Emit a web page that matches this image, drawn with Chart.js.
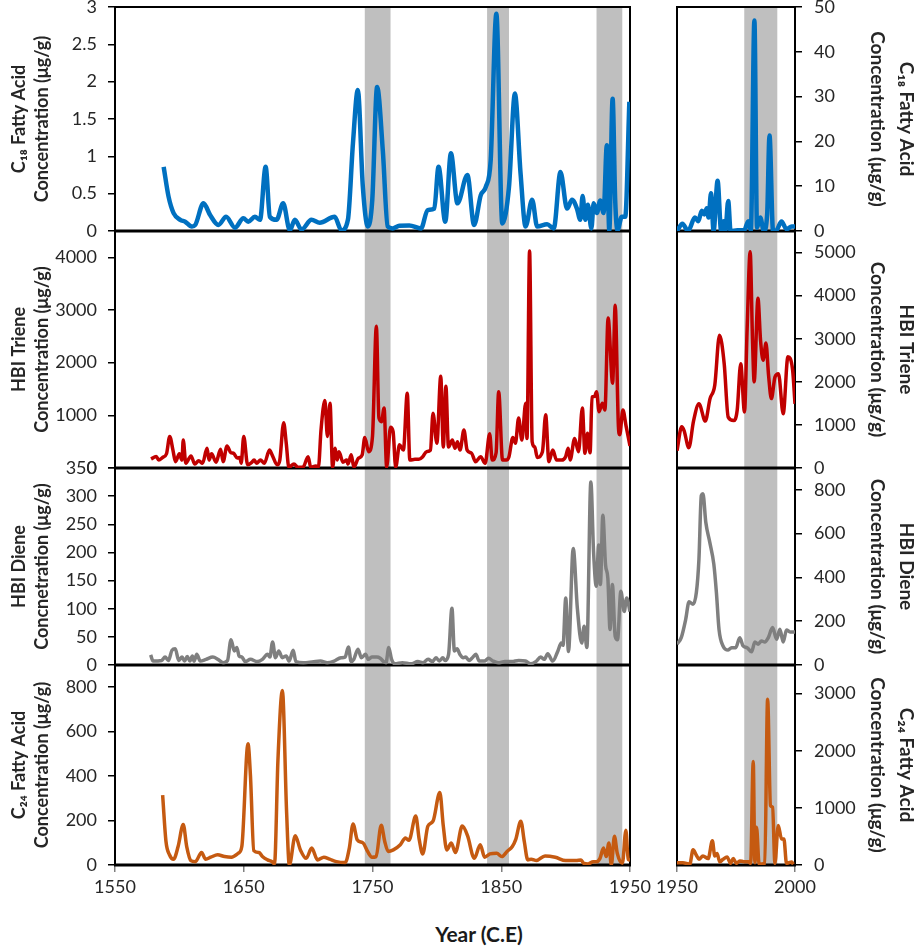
<!DOCTYPE html>
<html>
<head>
<meta charset="utf-8">
<script src="https://cdn.jsdelivr.net/npm/chart.js@4.4.1/dist/chart.umd.min.js"></script>
<style>
  body { margin: 0; background: #fff; }
  #wrap { position: relative; width: 923px; height: 947px; overflow: hidden; }
  canvas { position: absolute; top: 0; }
  #xtitle { position: absolute; left: 379px; width: 200px; top: 921px; text-align: center;
            font: bold 21px Lato, sans-serif; color: #1a1a1a; }
</style>
</head>
<body>
<div id="wrap">
  <canvas id="left" width="660" height="905" style="left:0"></canvas>
  <canvas id="right" width="283" height="905" style="left:640px"></canvas>
  <div id="xtitle">Year (C.E)</div>
</div>
<script>
// ---------- DATA ----------
const leftYearTicks = [1550, 1650, 1750, 1850, 1950];
const rightYearTicks = [1950, 2000];

const c18LeftTicks = [0, 0.5, 1, 1.5, 2, 2.5, 3];
const trieneLeftTicks = [0, 1000, 2000, 3000, 4000];
const dieneLeftTicks = [0, 50, 100, 150, 200, 250, 300, 350];
const c24LeftTicks = [0, 200, 400, 600, 800];
const c18RightTicks = [0, 10, 20, 30, 40, 50];
const trieneRightTicks = [0, 1000, 2000, 3000, 4000, 5000];
const dieneRightTicks = [0, 200, 400, 600, 800];
const c24RightTicks = [0, 1000, 2000, 3000];

const bandsLeft = [[1744, 1764], [1839, 1856], [1924, 1944]];
const bandsRight = [[1978.5, 1992.5]];

const leftTitles = [
  ['C\u2081\u2088 Fatty Acid', 'Concentration (\u03bcg/g)'],
  ['HBI Triene', 'Concentration (\u03bcg/g)'],
  ['HBI Diene', 'Concnetration (\u03bcg/g)'],
  ['C\u2082\u2084 Fatty Acid', 'Concentration (\u03bcg/g)']
];
const rightTitles = [
  ['C\u2081\u2088 Fatty Acid', 'Concentration (\u03bcg/g)'],
  ['HBI Triene', 'Concentration (\u03bcg/g)'],
  ['HBI Diene', 'Concentration (\u03bcg/g)'],
  ['C\u2082\u2084 Fatty Acid', 'Concentration (\u03bcg/g)']
];

// [year, value]
const c18Left = [[1587.8,0.86],[1591.6,0.46],[1595.5,0.24],[1600.7,0.15],[1604.5,0.125],[1609.7,0.06],[1612.3,0.08],[1618.7,0.37],[1624,0.21],[1630.3,0.08],[1636.3,0.19],[1643.2,0.045],[1649.7,0.17],[1653.5,0.125],[1658.7,0.19],[1662.6,0.15],[1667,0.86],[1670.3,0.19],[1675.5,0.15],[1680.6,0.37],[1685.8,0.01],[1689.7,0.15],[1694.8,0.02],[1702.6,0.15],[1709,0.11],[1720.6,0.19],[1725.8,0.01],[1730.9,0.15],[1734.8,1.17],[1738.6,1.89],[1742.5,0.59],[1746.4,0.06],[1749.8,0.41],[1753.6,1.93],[1758,1.08],[1761.8,0.06],[1765.7,0.035],[1770.9,0.07],[1778.6,0.075],[1787.7,0.035],[1792.8,0.28],[1798,0.30],[1801.3,0.86],[1806.5,0.125],[1810.9,1.04],[1816,0.37],[1823.7,0.75],[1828.9,0.08],[1834.1,0.48],[1838,0.59],[1841.8,0.95],[1846.2,2.91],[1850.8,0.10],[1856,0.59],[1860.6,1.84],[1865,0.77],[1868.9,0.06],[1874,0.42],[1877.9,0.06],[1885.6,0.09],[1890.8,0.035],[1896,0.79],[1901.1,0.30],[1905,0.42],[1908.8,0.30],[1911.4,0.15],[1913.2,0.47],[1915.3,0.15],[1917.3,0.35],[1920,0.035],[1921.8,0.37],[1924.3,0.24],[1926.9,0.41],[1929.5,0.24],[1932,1.15],[1933.9,0.01],[1936.5,1.77],[1938.5,0.41],[1940.3,0.01],[1943.6,0.19],[1946.3,0.19],[1949.5,1.73]];

const c18Right = [[1950,0],[1952.3,1.6],[1954.7,0],[1957.6,3.0],[1959,2.2],[1960.5,4.5],[1961.6,3.7],[1962.6,5.1],[1963.4,3.0],[1964.4,8.4],[1965.5,0],[1967.2,11.2],[1968.7,0],[1969.8,2.2],[1970.5,0],[1971.7,6.7],[1972.7,0],[1975.6,0.15],[1978.5,0.15],[1980.2,2.2],[1981.3,0.15],[1982.8,47],[1983.9,0.75],[1985.3,3.0],[1986.8,0],[1988.2,3.7],[1989.2,21.3],[1990.7,0],[1992.1,0.15],[1994.3,2.1],[1996.4,0.4],[1998.6,1.0],[2000,1.0]];

const trieneLeft = [[1578,170],[1582,220],[1584,150],[1587,200],[1590,270],[1592.5,600],[1595,340],[1597,120],[1600,270],[1602,150],[1603,530],[1605,90],[1609,230],[1612,75],[1615,140],[1618,90],[1621.5,375],[1623,150],[1625,270],[1628.5,110],[1632,355],[1634,120],[1637,420],[1640,290],[1642,280],[1645,190],[1647,200],[1648,90],[1650,600],[1653,60],[1656,100],[1658,150],[1660,90],[1663,150],[1666,90],[1670,340],[1672,250],[1676,60],[1678,150],[1681,860],[1683,470],[1685,15],[1689,75],[1692,15],[1696,15],[1700,215],[1702,15],[1706,40],[1708,15],[1710,720],[1713,1280],[1715,600],[1717,1230],[1719,15],[1721,375],[1722.5,150],[1724,310],[1727,110],[1730,150],[1731,75],[1733.5,250],[1735.5,15],[1739,185],[1742,250],[1744,580],[1747,310],[1750,600],[1753,2690],[1755,950],[1757,880],[1759,1140],[1761,15],[1764,775],[1766,690],[1768,15],[1771,440],[1774,340],[1777,1420],[1779,150],[1783,165],[1786,165],[1789,215],[1792,310],[1795,340],[1797,1040],[1800,470],[1803,1740],[1805,400],[1807,1550],[1809,400],[1812,530],[1814,375],[1816,500],[1818,340],[1821,720],[1823.5,340],[1827,280],[1830,120],[1834,215],[1837.5,90],[1841,650],[1843,150],[1846,290],[1848,1450],[1851,150],[1854,150],[1856,215],[1859,580],[1861,470],[1863.5,950],[1866,530],[1869,1230],[1870,560],[1872,4120],[1874,500],[1876,400],[1878,200],[1882,310],[1884.5,1010],[1887,120],[1890,340],[1893,150],[1897,150],[1900,215],[1902,375],[1903.5,150],[1907,560],[1910,310],[1913,1140],[1915,280],[1917,660],[1919,290],[1920.5,1350],[1922.5,1360],[1924,1450],[1926,1070],[1928.5,1230],[1930.5,1100],[1933,2850],[1936.5,1610],[1938.5,3090],[1941,790],[1942,630],[1944.5,1100],[1947,790],[1950,420]];

const trieneRight = [[1950,400],[1952,960],[1953,870],[1955,470],[1957,1090],[1959.3,1490],[1962,1090],[1964,1610],[1966,1920],[1968,3080],[1970,2420],[1971.7,1180],[1974,1100],[1975.5,1340],[1977,2420],[1978.6,1300],[1979.7,3200],[1981,5020],[1982,2960],[1982.7,2000],[1984.3,3940],[1985.4,2960],[1986.5,2500],[1987.7,2900],[1988.8,2150],[1990,1610],[1991.5,2110],[1993,2190],[1995,1260],[1997,2580],[1999,2270],[2000,1490]];

const dieneLeft = [[1577.7,18],[1579.6,7],[1586.2,8],[1588.9,14],[1591.5,8],[1594.2,26],[1596.8,29],[1599.5,8],[1602.1,14],[1604,7],[1606.1,15],[1608.2,7],[1610.1,16],[1611.4,7],[1613.5,19],[1616.2,7],[1620.7,10],[1626,14],[1630,10],[1634,4],[1637.4,8],[1640.1,45],[1642.7,25],[1644.6,31],[1646.4,16],[1648.6,14],[1651.2,6],[1655.2,10],[1660.5,6],[1664.5,10],[1668.5,19],[1670.3,14],[1672.4,41],[1674.6,13],[1677.2,25],[1679.9,13],[1683,16],[1685.2,7],[1688.4,26],[1690.5,6],[1696.3,4],[1704.3,6],[1709.6,7],[1714.9,4],[1720.2,7],[1725.5,13],[1728.7,14],[1731.3,32],[1733.4,6],[1735.5,10],[1738.7,28],[1741.4,13],[1744.6,19],[1746.7,10],[1749.4,14],[1753.4,14],[1756,12],[1758.7,6],[1760.5,4],[1762.6,31],[1764.8,10],[1767.4,2],[1773.2,4],[1779.9,2],[1785.2,6],[1789.2,4],[1793.2,10],[1796.6,6],[1799.3,13],[1801.9,7],[1804.6,13],[1806.4,8],[1809.1,19],[1811.7,101],[1813.6,25],[1815.7,29],[1817.8,19],[1820.5,13],[1822.3,14],[1825,8],[1827.6,13],[1830.3,19],[1832.9,7],[1836.9,7],[1840.1,12],[1843.6,7],[1847.6,4],[1852.9,6],[1858.2,6],[1863.5,8],[1868.8,7],[1872.8,2],[1876.8,6],[1880.7,14],[1883.4,10],[1886.1,20],[1890,7],[1894,25],[1896.6,39],[1898,35],[1900.1,119],[1902.2,24],[1905.9,207],[1909.1,101],[1912.5,39],[1914.4,69],[1916.5,31],[1919.6,325],[1921.7,201],[1923.8,140],[1925.7,213],[1927,143],[1928.9,266],[1931,178],[1932.8,154],[1934.5,63],[1936.3,143],[1938.5,51],[1940.3,45],[1942.9,131],[1945.5,95],[1947.4,119],[1950,95]];

const dieneRight = [[1950,95],[1951.8,125],[1953.7,209],[1955.1,289],[1956.8,278],[1958.2,331],[1959.3,484],[1960.3,774],[1961,782],[1962.2,652],[1963.9,560],[1965.6,461],[1966.7,331],[1967.8,163],[1969.5,87],[1971.7,69],[1973.1,79],[1974.9,79],[1976.6,125],[1978,87],[1979.7,79],[1981.6,60],[1983,105],[1984.4,95],[1985.8,110],[1987.2,105],[1988.7,125],[1990.5,171],[1992.2,118],[1993.6,163],[1995,105],[1996.4,160],[1997.9,151],[2000,151]];

const c24Left = [[1587,314],[1589.6,106],[1592.3,46],[1595.5,26],[1599,83],[1603,182],[1605.7,83],[1608.9,20],[1612.4,15],[1617.2,56],[1620.4,26],[1624.4,35],[1629.7,46],[1635.1,38],[1640.4,35],[1645.8,53],[1648.5,83],[1653.3,546],[1655.2,402],[1657.8,65],[1661.9,56],[1664.5,38],[1668.5,23],[1672,15],[1673.9,5],[1676.6,478],[1680,785],[1683.3,235],[1685.4,0],[1690,132],[1694,68],[1698.5,30],[1702.8,76],[1707.3,23],[1712.2,35],[1716.7,26],[1722,15],[1728.8,11],[1732,76],[1734.9,185],[1738.1,114],[1742.7,99],[1746.2,61],[1749.6,35],[1752.8,38],[1756.8,179],[1759.5,106],[1762.2,61],[1766.2,68],[1771.6,91],[1775.6,121],[1778.3,111],[1783.6,220],[1786.3,114],[1789,50],[1793,175],[1797,197],[1802.3,326],[1805,175],[1807.7,68],[1811.2,99],[1814.4,56],[1819.7,175],[1823.8,132],[1829.1,30],[1833.7,91],[1837.1,35],[1841.2,50],[1846.5,53],[1850.5,38],[1854.5,61],[1858.6,83],[1861.2,114],[1865.2,197],[1867.9,106],[1870.6,23],[1873.3,26],[1877.3,20],[1884,41],[1892,35],[1900,20],[1908,20],[1912,23],[1913.9,8],[1917.5,5],[1921.4,15],[1924,15],[1926.7,30],[1929.4,76],[1931.5,38],[1933.6,99],[1935.5,0],[1937.9,129],[1940.1,53],[1944.1,8],[1946.8,156],[1948.6,26],[1950,23]];

const c24Right = [[1950,41],[1952.5,41],[1955.4,12],[1956.8,265],[1958.2,171],[1959.3,100],[1961,159],[1963.2,112],[1965,424],[1966,159],[1967,200],[1968.1,53],[1969.5,100],[1971.2,141],[1972.7,29],[1973.8,112],[1975.2,29],[1976.6,71],[1978.3,59],[1980.2,59],[1981.2,29],[1982.3,1810],[1983,41],[1983.7,660],[1984.8,12],[1987.2,29],[1988.4,2900],[1989.6,1040],[1990.5,1010],[1991.5,29],[1992.9,690],[1994.3,454],[1995.3,454],[1996.4,29],[1998.6,53],[1999.3,12]];

// ---------- STYLE ----------
const FONT = 'Lato, "Open Sans", sans-serif';
const BLUE = '#0070C0', RED = '#C00000', GRAY = '#7F7F7F', ORANGE = '#C55A11';
const BAND = '#BFBFBF';
const TXT = '#262626';

const framePlugin = {
  id: 'frame',
  beforeDatasetsDraw(chart, args, opts) {
    const {ctx, chartArea: a, scales} = chart;
    const xs = scales.x;
    ctx.save();
    ctx.fillStyle = BAND;
    (opts.bands || []).forEach(b => {
      const x1 = xs.getPixelForValue(b[0]);
      const x2 = xs.getPixelForValue(b[1]);
      ctx.fillRect(x1, a.top, x2 - x1, a.bottom - a.top);
    });
    ctx.strokeStyle = '#000';
    ctx.lineWidth = 2;
    ctx.strokeRect(a.left, a.top, a.right - a.left, a.bottom - a.top);
    ctx.lineWidth = 3;
    (opts.axes || []).forEach(id => {
      const y = scales[id].getPixelForValue(0);
      ctx.beginPath();
      ctx.moveTo(a.left - 1, y);
      ctx.lineTo(a.right + 1, y);
      ctx.stroke();
    });
    ctx.restore();
  }
};

const sideTitlePlugin = {
  id: 'sideTitles',
  afterDraw(chart, args, opts) {
    if (!opts.items) return;
    const ctx = chart.ctx;
    opts.items.forEach(it => {
      const s = chart.scales[it.axis];
      const cy = (s.top + s.bottom) / 2;
      [[it.text[0], 17, 'bold 19px '], [it.text[1], 46, 'bold 19px ']].forEach(l => {
        ctx.save();
        ctx.fillStyle = TXT;
        ctx.textAlign = 'center';
        ctx.textBaseline = 'middle';
        ctx.translate(s.right - l[1], cy);
        ctx.rotate(Math.PI / 2);
        ctx.font = l[2] + FONT;
        ctx.fillText(l[0], 0, 0);
        ctx.restore();
      });
    });
  }
};

function series(pairs, axis, color, width) {
  return {
    data: pairs.map(p => ({x: p[0], y: p[1]})),
    yAxisID: axis, borderColor: color, borderWidth: width,
    pointRadius: 0, cubicInterpolationMode: 'monotone', fill: false
  };
}

function xAxis(min, max, tickList) {
  return {
    type: 'linear', position: 'bottom', min, max,
    afterBuildTicks: s => { s.ticks = tickList.map(v => ({value: v})); },
    ticks: { callback: v => String(v), font: {family: FONT, size: 18}, color: TXT,
             padding: 4, maxRotation: 0, autoSkip: false },
    grid: { drawOnChartArea: false, tickLength: 7, color: '#808080', lineWidth: 1.5 },
    border: { display: false },
    afterFit: s => { s.height = 40; s.paddingLeft = 0; s.paddingRight = 0; }
  };
}

function yAxis(c) {
  const left = c.pos === 'left';
  return {
    type: 'linear', axis: 'y', position: c.pos, stack: c.pos, stackWeight: c.h, weight: c.w,
    min: 0, max: c.max,
    afterBuildTicks: s => { s.ticks = c.ticks.map(v => ({value: v})); },
    ticks: { autoSkip: false, callback: v => String(v), font: {family: FONT, size: 18}, color: TXT,
             padding: left ? 11 : 12 },
    grid: { drawOnChartArea: false, tickLength: 7, color: '#000', lineWidth: 1.5 },
    border: { display: true, color: '#000', width: 2 },
    title: c.title ? { display: true, text: c.title, color: TXT,
             font: {family: FONT, size: 18, weight: 'bold', lineHeight: 1.3},
             padding: {top: 7, bottom: 0} } : {display: false},
    afterFit: s => { s.width = left ? 115 : 128; s.paddingTop = 0; s.paddingBottom = 0; }
  };
}

const common = { responsive: false, animation: false, events: [] };

new Chart(document.getElementById('left'), {
  type: 'line',
  data: { datasets: [
    series(c18Left, 'yA', BLUE, 4.5),
    series(trieneLeft, 'yB', RED, 3.5),
    series(dieneLeft, 'yC', GRAY, 3.5),
    series(c24Left, 'yD', ORANGE, 3.5)
  ]},
  options: Object.assign({}, common, {
    layout: { padding: {left: 0, right: 30, top: 7, bottom: 0} },
    plugins: { legend: {display: false}, tooltip: {enabled: false},
               frame: { bands: bandsLeft, axes: ['yA', 'yB', 'yC', 'yD'] } },
    scales: {
      x: xAxis(1550, 1950, leftYearTicks),
      yA: yAxis({pos: 'left', h: 224, w: 4, max: 3, ticks: c18LeftTicks, title: leftTitles[0]}),
      yB: yAxis({pos: 'left', h: 237, w: 3, max: 4500, ticks: trieneLeftTicks, title: leftTitles[1]}),
      yC: yAxis({pos: 'left', h: 197, w: 2, max: 350, ticks: dieneLeftTicks, title: leftTitles[2]}),
      yD: yAxis({pos: 'left', h: 200, w: 1, max: 900, ticks: c24LeftTicks, title: leftTitles[3]})
    }
  }),
  plugins: [framePlugin]
});

new Chart(document.getElementById('right'), {
  type: 'line',
  data: { datasets: [
    series(c18Right, 'rA', BLUE, 4.5),
    series(trieneRight, 'rB', RED, 3.5),
    series(dieneRight, 'rC', GRAY, 3.5),
    series(c24Right, 'rD', ORANGE, 3.5)
  ]},
  options: Object.assign({}, common, {
    layout: { padding: {left: 37, right: 0, top: 7, bottom: 0} },
    plugins: { legend: {display: false}, tooltip: {enabled: false},
               frame: { bands: bandsRight, axes: ['rA', 'rB', 'rC', 'rD'] },
               sideTitles: { items: [
                 {axis: 'rA', text: rightTitles[0]}, {axis: 'rB', text: rightTitles[1]},
                 {axis: 'rC', text: rightTitles[2]}, {axis: 'rD', text: rightTitles[3]} ] } },
    scales: {
      x: xAxis(1950, 2000, rightYearTicks),
      rA: yAxis({pos: 'right', h: 224, w: 1, max: 50, ticks: c18RightTicks}),
      rB: yAxis({pos: 'right', h: 237, w: 2, max: 5500, ticks: trieneRightTicks}),
      rC: yAxis({pos: 'right', h: 197, w: 3, max: 900, ticks: dieneRightTicks}),
      rD: yAxis({pos: 'right', h: 200, w: 4, max: 3500, ticks: c24RightTicks})
    }
  }),
  plugins: [framePlugin, sideTitlePlugin]
});
</script>
</body>
</html>
